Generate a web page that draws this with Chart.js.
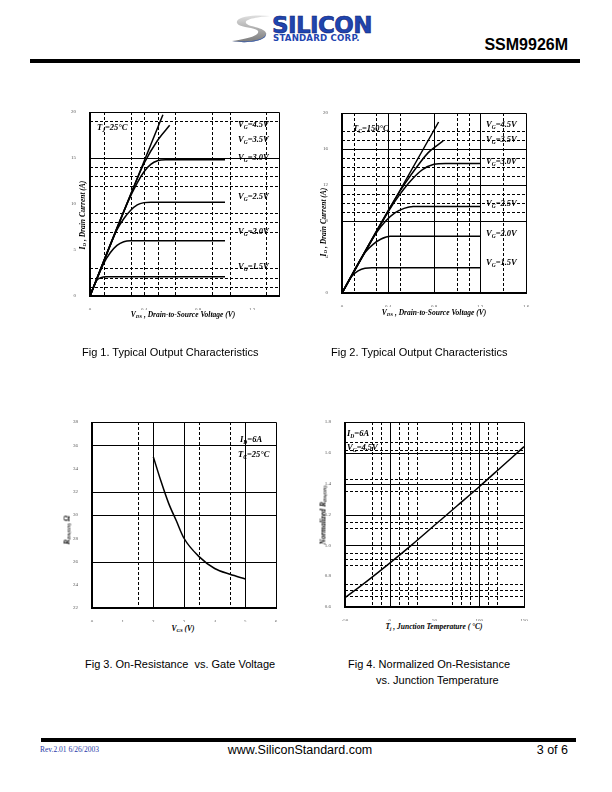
<!DOCTYPE html>
<html>
<head>
<meta charset="utf-8">
<script src="https://cdn.jsdelivr.net/npm/chart.js@4.4.0/dist/chart.umd.min.js"></script>
<style>
  body { margin: 0; width: 612px; height: 792px; position: relative; background: #fff; overflow: hidden; }
  .abs { position: absolute; white-space: nowrap; line-height: 1; color: #000; }
  .lbl { font: bold italic 8.5px "Liberation Serif", serif; transform: translateY(-50%); }
  .xt { font: bold italic 7.5px "Liberation Serif", serif; transform: translate(-50%, -50%); }
  .yt { font: bold italic 7.5px "Liberation Serif", serif; transform: translate(-50%, -50%) rotate(-90deg); }
  .cap { font: 11px "Liberation Sans", Arial, sans-serif; transform: translateY(-50%); }
  sub { font-size: 65%; vertical-align: -0.3em; line-height: 0; }
  canvas { position: absolute; }
  .bar { position: absolute; background: #000; }
</style>
</head>
<body>

<!-- en-tête -->
<svg class="abs" style="left:231px;top:14px" width="40" height="30" viewBox="0 0 40 30">
  <defs>
    <linearGradient id="gr" x1="0" y1="0" x2="0" y2="1">
      <stop offset="0" stop-color="#e0e0e0"/><stop offset="1" stop-color="#7a7a7a"/>
    </linearGradient>
  </defs>
  <path d="M39,2 C22,0 4,3 6,9 C8,14 24,13 27,17 C29,21 17,25 1,27 C16,30 37,27 35,19 C33,13 17,13 15,9 C13,5 27,3 39,2 Z" fill="url(#gr)"/>
  <path d="M1,27 C16,30 37,27 35,19 C36,25 22,29 1,27 Z" fill="#2a56b8"/>
</svg>
<div class="abs" style="left:272px;top:12px;font:bold 23px 'DejaVu Sans',sans-serif;color:#1f45b0;letter-spacing:-0.6px;-webkit-text-stroke:0.6px #0d2270">SILICON</div>
<div class="abs" style="left:273px;top:33px;font:bold 8.6px 'DejaVu Sans',sans-serif;color:#1f45b0;letter-spacing:0.2px">STANDARD CORP.</div>
<div class="abs" style="right:44px;top:36px;font:bold 16px 'Liberation Sans',Arial,sans-serif">SSM9926M</div>
<div class="bar" style="left:30px;top:59px;width:550px;height:4px"></div>

<canvas id="fig1"></canvas>
<canvas id="fig2"></canvas>
<canvas id="fig3"></canvas>
<canvas id="fig4"></canvas>

<!-- Fig 1 -->
<div class="abs lbl" style="left:97px;top:127px">T<sub>J</sub>=25°C</div>
<div class="abs lbl" style="left:238px;top:124px">V<sub>G</sub>=4.5V</div>
<div class="abs lbl" style="left:238px;top:139px">V<sub>G</sub>=3.5V</div>
<div class="abs lbl" style="left:238px;top:157px">V<sub>G</sub>=3.0V</div>
<div class="abs lbl" style="left:238px;top:196px">V<sub>G</sub>=2.5V</div>
<div class="abs lbl" style="left:238px;top:231px">V<sub>G</sub>=2.0V</div>
<div class="abs lbl" style="left:238px;top:266px">V<sub>G</sub>=1.5V</div>
<div class="abs xt" style="left:183px;top:314px">V<sub>DS</sub> , Drain-to-Source Voltage (V)</div>
<div class="abs yt" style="left:82px;top:215px">I<sub>D</sub> , Drain Current (A)</div>
<div class="abs cap" style="left:82px;top:352px">Fig 1. Typical Output Characteristics</div>

<!-- Fig 2 -->
<div class="abs lbl" style="left:353px;top:128px">T<sub>C</sub>=150°C</div>
<div class="abs lbl" style="left:486px;top:124px">V<sub>G</sub>=4.5V</div>
<div class="abs lbl" style="left:486px;top:139px">V<sub>G</sub>=3.5V</div>
<div class="abs lbl" style="left:486px;top:161px">V<sub>G</sub>=3.0V</div>
<div class="abs lbl" style="left:486px;top:203px">V<sub>G</sub>=2.5V</div>
<div class="abs lbl" style="left:486px;top:233px">V<sub>G</sub>=2.0V</div>
<div class="abs lbl" style="left:486px;top:262px">V<sub>G</sub>=1.5V</div>
<div class="abs xt" style="left:434px;top:312px">V<sub>DS</sub> , Drain-to-Source Voltage (V)</div>
<div class="abs yt" style="left:323px;top:222px">I<sub>D</sub> , Drain Current (A)</div>
<div class="abs cap" style="left:331px;top:352px">Fig 2. Typical Output Characteristics</div>

<!-- Fig 3 -->
<div class="abs lbl" style="left:240px;top:439px">I<sub>D</sub>=6A</div>
<div class="abs lbl" style="left:238px;top:454px">T<sub>C</sub>=25°C</div>
<div class="abs xt" style="left:183px;top:628px">V<sub>GS</sub> (V)</div>
<div class="abs yt" style="left:67px;top:530px">R<sub>DS(ON)</sub> Ω</div>
<div class="abs cap" style="left:85px;top:664px">Fig 3. On-Resistance&nbsp; vs. Gate Voltage</div>

<!-- Fig 4 -->
<div class="abs lbl" style="left:347px;top:433px">I<sub>D</sub>=6A</div>
<div class="abs lbl" style="left:347px;top:447px">V<sub>G</sub>=4.5V</div>
<div class="abs xt" style="left:434px;top:626px">T<sub>j</sub> , Junction Temperature ( °C)</div>
<div class="abs yt" style="left:323px;top:515px">Normalized R<sub>DS(ON)</sub></div>
<div class="abs cap" style="left:348px;top:664px">Fig 4. Normalized On-Resistance</div>
<div class="abs cap" style="left:376px;top:680px">vs. Junction Temperature</div>

<!-- pied de page -->
<div class="bar" style="left:41px;top:738px;width:535px;height:4px"></div>
<div class="abs" style="left:40px;top:745px;font:7.5px 'Liberation Serif',serif;color:#2838a8">Rev.2.01 6/26/2003</div>
<div class="abs" style="left:300px;top:743px;transform:translateX(-50%);font:12.5px 'Liberation Sans',Arial,sans-serif">www.SiliconStandard.com</div>
<div class="abs" style="right:44px;top:743px;font:12.5px 'Liberation Sans',Arial,sans-serif">3 of 6</div>

<script>
// Fig 1 : Id (A) en fonction de Vds (V), Tj = 25 C
const fig1Vg45 = [[0, 0], [0.27, 9.9], [0.54, 19.7]];
const fig1Vg35 = [[0, 0], [0.32, 11.7], [0.4, 14.4], [0.5, 16.9], [0.59, 18.55]];
const fig1Vg30 = [[0, 0], [0.28, 10.2], [0.35, 12.3], [0.4, 13.5], [0.45, 14.3], [0.5, 14.7], [0.56, 14.8], [1.0, 14.8]];
const fig1Vg25 = [[0, 0], [0.2, 7.2], [0.25, 8.4], [0.3, 9.3], [0.35, 9.9], [0.4, 10.15], [0.45, 10.2], [1.0, 10.2]];
const fig1Vg20 = [[0, 0], [0.1, 3.5], [0.15, 4.7], [0.2, 5.5], [0.25, 5.9], [0.3, 6.0], [1.0, 6.0]];
const fig1Vg15 = [[0, 0], [0.03, 1.1], [0.05, 1.7], [0.08, 2.0], [0.12, 2.1], [1.0, 2.1]];

// Fig 2 : Id (A) en fonction de Vds (V), Tc = 150 C
const fig2Vg45 = [[0, 0], [0.42, 9.5], [0.84, 19.0]];
const fig2Vg35 = [[0, 0], [0.45, 10.2], [0.55, 12.2], [0.65, 14.0], [0.75, 15.6], [0.88, 16.9]];
const fig2Vg30 = [[0, 0], [0.4, 9.0], [0.5, 10.9], [0.6, 12.5], [0.7, 13.7], [0.8, 14.3], [0.9, 14.4], [1.2, 14.4]];
const fig2Vg25 = [[0, 0], [0.3, 6.7], [0.38, 8.0], [0.46, 8.9], [0.54, 9.4], [0.62, 9.6], [1.2, 9.6]];
const fig2Vg20 = [[0, 0], [0.2, 4.5], [0.27, 5.4], [0.34, 6.0], [0.42, 6.3], [1.2, 6.3]];
const fig2Vg15 = [[0, 0], [0.08, 1.8], [0.14, 2.45], [0.2, 2.75], [0.26, 2.8], [1.2, 2.8]];

// Fig 3 : Rds(on) en fonction de Vgs
const fig3Vgs = [2, 2.25, 2.5, 2.75, 3, 3.5, 4, 4.5, 5];
const fig3Rds = [35, 32.9, 31.0, 29.5, 28.0, 26.4, 25.4, 24.9, 24.5];

// Fig 4 : Rds(on) normalisée en fonction de Tj
const fig4Temp = [-50, -25, 0, 25, 50, 75, 100, 125, 150];
const fig4Rn = [0.66, 0.77, 0.885, 1.005, 1.13, 1.255, 1.38, 1.51, 1.64];

// Lignes de grille (valeurs des axes)
const fig1Grid = { xSolid: [], xDash: [0.1, 0.3, 0.4, 0.5, 0.63, 0.9, 1.04, 1.3], ySolid: [15], yDash: [19, 14, 13, 12, 9, 8, 7, 3, 2, 1] };
const fig2Grid = { xSolid: [0.4, 0.8, 1.2], xDash: [0.1, 0.3, 0.5, 1.0, 1.1, 1.4], ySolid: [8, 12, 16], yDash: [18, 17, 15, 14, 13, 11, 10, 9] };
const fig3Grid = { xSolid: [2, 3, 5], xDash: [1.5, 3.5, 4.5], ySolid: [26, 30, 32, 36], yDash: [] };
const fig4Grid = { xSolid: [0, 100], xDash: [-20, -10, 10, 20, 30, 70, 80, 90, 110, 120], ySolid: [1.0, 1.2, 1.4, 1.6], yDash: [1.67, 1.62, 1.43, 1.35, 1.15, 1.11, 0.95, 0.91, 0.87, 0.75, 0.71, 0.67] };

// Grille personnalisée + cadre
const refGrid = {
  id: "refGrid",
  beforeDatasetsDraw(chart, args, opts) {
    const { ctx, chartArea: a, scales } = chart;
    ctx.save();
    ctx.strokeStyle = "#000";
    ctx.lineWidth = 1;
    function draw(vals, dash, vertical) {
      ctx.setLineDash(dash);
      vals.forEach(function (v) {
        ctx.beginPath();
        if (vertical) {
          const px = Math.round(scales.x.getPixelForValue(v)) + 0.5;
          ctx.moveTo(px, a.top);
          ctx.lineTo(px, a.bottom);
        } else {
          const py = Math.round(scales.y.getPixelForValue(v)) + 0.5;
          ctx.moveTo(a.left, py);
          ctx.lineTo(a.right, py);
        }
        ctx.stroke();
      });
    }
    draw(opts.xDash || [], [3, 2], true);
    draw(opts.yDash || [], [3, 2], false);
    draw(opts.xSolid || [], [], true);
    draw(opts.ySolid || [], [], false);
    ctx.restore();
  },
  afterDatasetsDraw(chart) {
    const { ctx, chartArea: a } = chart;
    ctx.save();
    ctx.strokeStyle = "#000";
    ctx.setLineDash([]);
    ctx.lineWidth = 1;
    ctx.beginPath();
    ctx.moveTo(a.left, a.top + 0.5);
    ctx.lineTo(a.right + 0.5, a.top + 0.5);
    ctx.lineTo(a.right + 0.5, a.bottom);
    ctx.stroke();
    ctx.lineWidth = 2;
    ctx.beginPath();
    ctx.moveTo(a.left, a.top);
    ctx.lineTo(a.left, a.bottom);
    ctx.lineTo(a.right + 1, a.bottom);
    ctx.stroke();
    ctx.restore();
  }
};

const tickFont = { family: "'Liberation Serif', serif", size: 5 };

function curve(points) {
  return {
    data: points.map(function (p) { return { x: p[0], y: p[1] }; }),
    showLine: true,
    borderColor: "#000",
    borderWidth: 1.5,
    pointRadius: 0,
    cubicInterpolationMode: "monotone",
    fill: false
  };
}

function makeChart(id, box, xAxis, yAxis, datasets, grid) {
  const padT = 8, padR = 14, yW = 24, xH = 14;
  const cv = document.getElementById(id);
  cv.style.left = (box.l - yW) + "px";
  cv.style.top = (box.t - padT) + "px";
  cv.width = (box.r - box.l) + yW + padR;
  cv.height = (box.b - box.t) + padT + xH;
  return new Chart(cv, {
    type: "scatter",
    data: { datasets: datasets },
    options: {
      responsive: false,
      animation: false,
      devicePixelRatio: 1,
      events: [],
      layout: { padding: { top: padT, right: padR, left: 0, bottom: 0 } },
      plugins: { legend: { display: false }, tooltip: { enabled: false }, refGrid: grid },
      scales: {
        x: {
          type: "linear", min: xAxis.min, max: xAxis.max,
          grid: { display: false }, border: { display: false },
          afterFit: function (s) { s.height = xH; },
          ticks: { stepSize: xAxis.step, includeBounds: false, font: tickFont, color: "#555", padding: 3, maxRotation: 0, callback: xAxis.fmt }
        },
        y: {
          type: "linear", min: yAxis.min, max: yAxis.max,
          grid: { display: false }, border: { display: false },
          afterFit: function (s) { s.width = yW; },
          ticks: { stepSize: yAxis.step, includeBounds: false, font: tickFont, color: "#555", padding: 6, callback: yAxis.fmt }
        }
      }
    },
    plugins: [refGrid]
  });
}

const fmt1 = function (v) { return v === 0 ? "0" : v.toFixed(1); };
const fmtInt = function (v) { return String(Math.round(v)); };

makeChart("fig1", { l: 90, t: 111, r: 279, b: 296 },
  { min: 0, max: 1.4, step: 0.4, fmt: fmt1 },
  { min: 0, max: 20, step: 5, fmt: fmtInt },
  [fig1Vg45, fig1Vg35, fig1Vg30, fig1Vg25, fig1Vg20, fig1Vg15].map(curve), fig1Grid);

makeChart("fig2", { l: 342, t: 112, r: 526, b: 293 },
  { min: 0, max: 1.6, step: 0.4, fmt: fmt1 },
  { min: 0, max: 20, step: 4, fmt: fmtInt },
  [fig2Vg45, fig2Vg35, fig2Vg30, fig2Vg25, fig2Vg20, fig2Vg15].map(curve), fig2Grid);

makeChart("fig3", { l: 92, t: 421, r: 276, b: 608 },
  { min: 0, max: 6, step: 1, fmt: fmtInt },
  { min: 22, max: 38, step: 2, fmt: fmtInt },
  [curve(fig3Vgs.map(function (v, i) { return [v, fig3Rds[i]]; }))], fig3Grid);

makeChart("fig4", { l: 345, t: 421, r: 524, b: 607 },
  { min: -50, max: 150, step: 50, fmt: fmtInt },
  { min: 0.6, max: 1.8, step: 0.2, fmt: function (v) { return v.toFixed(1); } },
  [curve(fig4Temp.map(function (t, i) { return [t, fig4Rn[i]]; }))], fig4Grid);
</script>
</body>
</html>
